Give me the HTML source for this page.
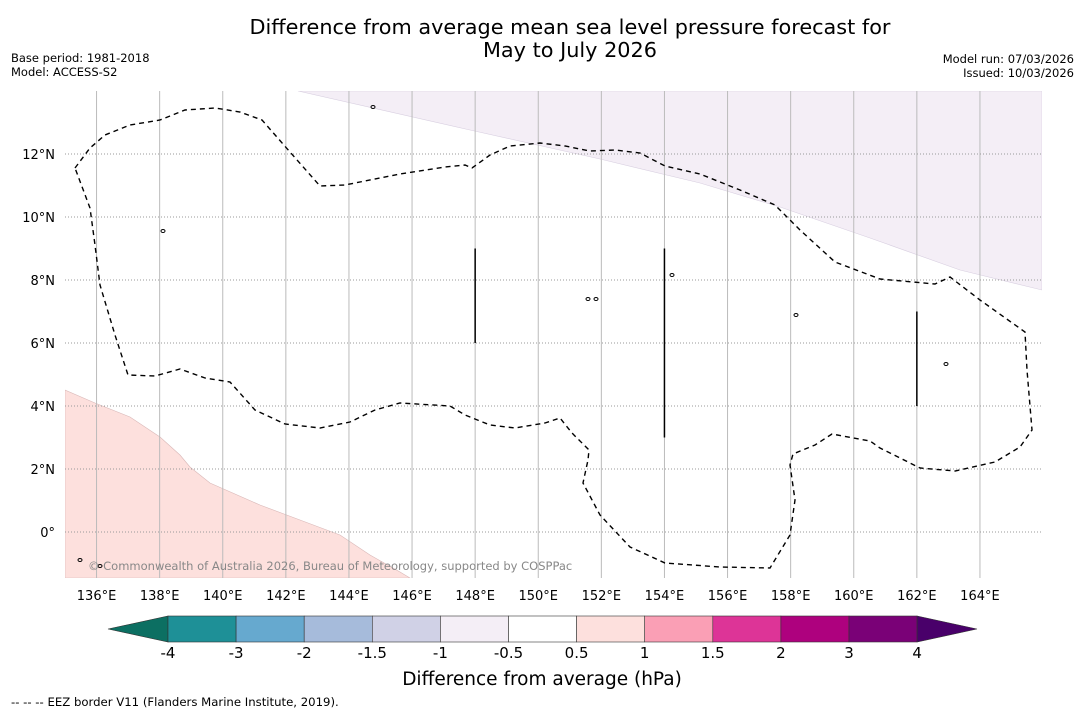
<!DOCTYPE html>
<html><head><meta charset="utf-8"><style>
body{margin:0;background:#fff;width:1085px;height:713px;overflow:hidden;font-family:"Liberation Sans","DejaVu Sans",sans-serif}
svg{display:block}
</style></head><body>
<svg width="1085" height="713" font-family="DejaVu Sans, Liberation Sans, sans-serif">
<text x="570" y="34" font-size="20.8" text-anchor="middle">Difference from average mean sea level pressure forecast for</text>
<text x="570" y="57" font-size="20.8" text-anchor="middle">May to July 2026</text>
<text x="11" y="62" font-size="11.5">Base period: 1981-2018</text>
<text x="11" y="76" font-size="11.5">Model: ACCESS-S2</text>
<text x="1074" y="63" font-size="11.5" text-anchor="end">Model run: 07/03/2026</text>
<text x="1074" y="77" font-size="11.5" text-anchor="end">Issued: 10/03/2026</text>
<defs><clipPath id="mc"><rect x="65" y="91" width="977" height="487"/></clipPath></defs>
<g id="map" clip-path="url(#mc)"></g>
<g id="axes"></g>
<g id="cbar"></g>
<text x="542" y="685" font-size="18.5" text-anchor="middle">Difference from average (hPa)</text>
<text x="11" y="706" font-size="11.7">--  --  -- EEZ border V11 (Flanders Marine Institute, 2019).</text>
</svg>
<script>
const lonTicks=[136,138,140,142,144,146,148,150,152,154,156,158,160,162,164];
const latTicks=[0,2,4,6,8,10,12];
const cbTicks=["-4","-3","-2","-1.5","-1","-0.5","0.5","1","1.5","2","3","4"];
const cbColors=["#1e9097","#66a9cf","#a6bbdb","#d0d1e6","#f4eef6","#ffffff","#fde0dd","#fa9fb5","#dd3497","#ae017e","#7a0177"];
const NS="http://www.w3.org/2000/svg";
const X=lon=>65+(lon-135)*31.55, Y=lat=>91+(14-lat)*31.5;
const px2=(p)=>p.map(([x,y])=>x+","+y).join(" ");
function mk(tag,attrs,parent){const e=document.createElementNS(NS,tag);for(const k in attrs)e.setAttribute(k,attrs[k]);parent.appendChild(e);return e;}
const map=document.getElementById('map'),axes=document.getElementById('axes'),cb=document.getElementById('cbar');
let e=mk('polygon',{points:px2([[298,91],[1042,91],[1042,290],[960,270],[870,238],[780,207],[700,183],[600,159],[470,130]]),fill:"#f4eef6",stroke:"#d8cfe0","stroke-width":0.6},map);

e=mk('polygon',{points:px2([[65,390],[95,403],[130,417],[160,437],[180,455],[190,467],[210,483],[260,505],[300,520],[340,535],[370,555],[400,572],[410,578],[65,578]]),fill:"#fde0dd",stroke:"#d9b8b8","stroke-width":0.6},map);

lonTicks.forEach(l=>{const g=mk('line',{x1:X(l),x2:X(l),y1:91,y2:578,stroke:"#bbb","stroke-width":1},map);
});
latTicks.forEach(l=>{const g=mk('line',{x1:65,x2:1042,y1:Y(l),y2:Y(l),stroke:"#999","stroke-width":1,"stroke-dasharray":"1,2"},map);
});
e=mk('polygon',{points:px2([[75,168],[90,148],[105,135],[130,125],[160,120],[185,110],[215,108],[240,112],[262,120],[290,152],[320,186],[345,185],[400,174],[445,167],[465,165],[472,168],[490,155],[510,146],[540,143],[565,146],[590,151],[615,150],[640,153],[665,166],[700,174],[740,190],[775,205],[800,230],[835,262],[880,279],[935,284],[950,277],[980,300],[1025,332],[1027,370],[1032,430],[1020,447],[995,462],[955,471],[920,468],[880,448],[870,441],[832,434],[815,445],[793,454],[790,465],[795,500],[790,535],[770,568],[720,567],[665,563],[630,547],[600,515],[583,483],[588,460],[589,450],[572,433],[560,418],[545,423],[515,428],[490,425],[465,415],[450,406],[400,403],[375,410],[350,422],[320,428],[285,424],[255,410],[230,382],[205,378],[180,369],[155,376],[128,375],[115,335],[100,285],[95,245],[90,208]]),fill:"none",stroke:"#000","stroke-width":1.4,"stroke-dasharray":"5,4"},map);

[[148,9,6],[154,9,3],[162,7,4]].forEach(([lo,a,b])=>{const l=mk('line',{x1:X(lo),x2:X(lo),y1:Y(a),y2:Y(b),stroke:"#000","stroke-width":1.5},map);
});
[[373,107],[163,231],[588,299],[596,299],[796,315],[946,364],[672,275],[80,560],[100,566]].forEach(([x,y])=>{const c=mk('ellipse',{cx:x,cy:y,rx:2,ry:1.5,fill:"none",stroke:"#000","stroke-width":1},map);
});
e=mk('text',{x:88,y:570,"font-size":11.5,fill:"#888"},map);e.textContent="© Commonwealth of Australia 2026, Bureau of Meteorology, supported by COSPPac";

lonTicks.forEach(l=>{const t=mk('text',{x:X(l),y:600,"font-size":13,"text-anchor":"middle"},axes);t.textContent=l+"°E";
});
latTicks.forEach(l=>{const t=mk('text',{x:55,y:Y(l)+5,"font-size":13,"text-anchor":"end"},axes);t.textContent=l===0?"0°":l+"°N";
});
const x0=168,w=68.1,y0=616,h=26;
let tr=mk('polygon',{points:`108,629 ${x0},${y0} ${x0},${y0+h}`,fill:"#0c6f62",stroke:"#333","stroke-width":0.6},cb);

cbColors.forEach((c,i)=>{const r=mk('rect',{x:x0+i*w,y:y0,width:w,height:h,fill:c,stroke:"#333","stroke-width":0.6},cb);
});
const xe=x0+cbColors.length*w;
tr=mk('polygon',{points:`${xe},${y0} 977,629 ${xe},${y0+h}`,fill:"#49006a",stroke:"#333","stroke-width":0.6},cb);

cbTicks.forEach((s,i)=>{const t=mk('text',{x:x0+i*w,y:658,"font-size":15,"text-anchor":"middle"},cb);t.textContent=s;
});
</script>
</body></html>
